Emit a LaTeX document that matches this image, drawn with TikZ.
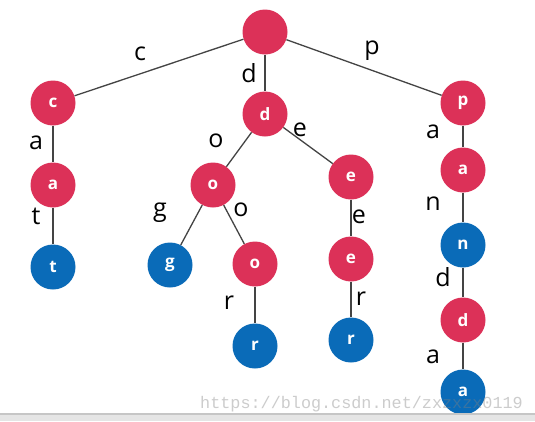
\documentclass[tikz,border=0pt]{standalone}
\usepackage{fontspec}
\setmainfont{Open Sans}
\newfontfamily\wmfont{Liberation Mono}
\tikzset{
  trinode/.style={circle, minimum size=45pt, inner sep=0pt, text=white, font=\fontsize{17}{17}\selectfont\bfseries},
  rednode/.style={trinode, fill={rgb,255:red,220;green,49;blue,88}},
  bluenode/.style={trinode, fill={rgb,255:red,10;green,107;blue,184}},
  edgelbl/.style={font=\fontsize{25}{25}\selectfont, text=black, inner sep=0pt},
  triedge/.style={draw={rgb,255:red,68;green,68;blue,68}, line width=1.3pt},
}
\begin{document}
\begin{tikzpicture}[x=1pt,y=-1pt]
\useasboundingbox (0,0) rectangle (535,421);
\fill[white] (0,0) rectangle (535,421);
% nodes
\node[rednode] (root) at (265,32) {};
\node[rednode] (c) at (53,103) {c};
\node[rednode] (d) at (265,114) {d};
\node[rednode] (p) at (463,103) {p};
\node[rednode] (ca) at (53,185) {a};
\node[bluenode] (cat) at (53,267) {t};
\node[rednode] (do) at (213,185) {o};
\node[rednode] (de) at (351,177) {e};
\node[bluenode] (dog) at (170,265) {g};
\node[rednode] (doo) at (255,264) {o};
\node[rednode] (dee) at (351,259) {e};
\node[bluenode] (door) at (255,346) {r};
\node[bluenode] (deer) at (351,340) {r};
\node[rednode] (pa) at (463,170) {a};
\node[bluenode] (pan) at (463,245) {n};
\node[rednode] (pand) at (463,320) {d};
\node[bluenode] (panda) at (463,392) {a};
% edges
\path[triedge] (root) -- (c);
\path[triedge] (root) -- (d);
\path[triedge] (root) -- (p);
\path[triedge] (c) -- (ca);
\path[triedge] (ca) -- (cat);
\path[triedge] (d) -- (do);
\path[triedge] (d) -- (de);
\path[triedge] (do) -- (dog);
\path[triedge] (do) -- (doo);
\path[triedge] (doo) -- (door);
\path[triedge] (de) -- (dee);
\path[triedge] (dee) -- (deer);
\path[triedge] (p) -- (pa);
\path[triedge] (pa) -- (pan);
\path[triedge] (pan) -- (pand);
\path[triedge] (pand) -- (panda);
% edge labels
\node[edgelbl] (lc) at (140,54) {c};
\node[edgelbl] (ld) at (249,73) {d};
\node[edgelbl] (lp) at (372,51) {p};
\node[edgelbl] (la1) at (36,143) {a};
\node[edgelbl] (lt) at (36,216) {t};
\node[edgelbl] (lo1) at (216,141) {o};
\node[edgelbl] (le1) at (300,130) {e};
\node[edgelbl] (lg) at (160,213) {g};
\node[edgelbl] (lo2) at (241,210) {o};
\node[edgelbl] (le2) at (359,217) {e};
\node[edgelbl] (lr1) at (229,303) {r};
\node[edgelbl] (lr2) at (361,299) {r};
\node[edgelbl] (la2) at (433,132) {a};
\node[edgelbl] (ln) at (433,204) {n};
\node[edgelbl] (ld2) at (443,277) {d};
\node[edgelbl] (la3) at (433,357) {a};
% watermark
\node[font=\wmfont\fontsize{16.8}{17}\selectfont, text=gray, opacity=0.4, anchor=base west, inner sep=0pt] (wm) at (200,408) {https://blog.csdn.net/zxzxzx0119};
% bottom bar
\fill[gray!45] (0,413) rectangle (535,415);
\fill[gray!20] (0,415) rectangle (535,421);
\end{tikzpicture}
\end{document}
